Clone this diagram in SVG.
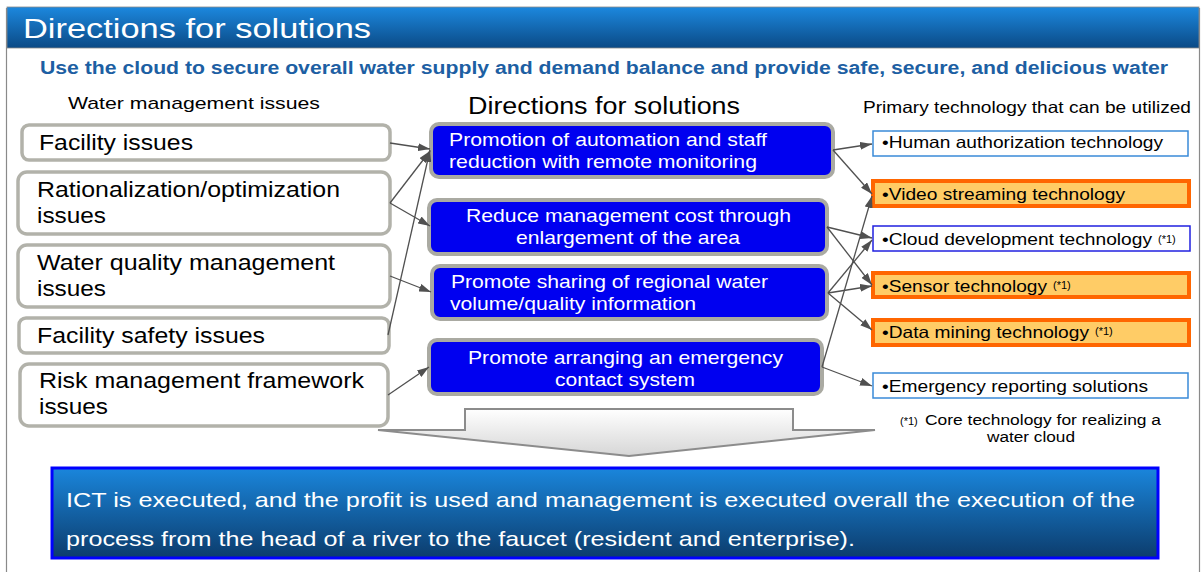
<svg xmlns="http://www.w3.org/2000/svg" width="1202" height="572" viewBox="0 0 1202 572">
<defs>
<linearGradient id="gTitle" x1="0" y1="0" x2="0" y2="1">
<stop offset="0" stop-color="#1c88de"/>
<stop offset="1" stop-color="#0b4a86"/>
</linearGradient>
<linearGradient id="gBottom" x1="0" y1="0" x2="0" y2="1">
<stop offset="0" stop-color="#1a86dc"/>
<stop offset="1" stop-color="#0c3c6c"/>
</linearGradient>
<linearGradient id="gArrow" x1="0" y1="0" x2="0" y2="1">
<stop offset="0" stop-color="#ffffff"/>
<stop offset="1" stop-color="#d6d6d6"/>
</linearGradient>
<marker id="ah" viewBox="0 0 12 8" refX="12" refY="4" markerWidth="12" markerHeight="8" markerUnits="userSpaceOnUse" orient="auto">
<path d="M0,0 L12,4 L0,8 z" fill="#505050"/>
</marker>
</defs>
<style>
text{font-family:"Liberation Sans",Arial,sans-serif;}
.issue rect{fill:#ffffff;stroke:#b2b2aa;stroke-width:3.5;}
.issue text{font-size:22px;fill:#000;}
.dir rect{fill:#0000f0;stroke:#aaaaa2;stroke-width:4;}
.dir text{font-size:18.5px;fill:#fff;}
.tech text{font-size:16.5px;fill:#000;}
.tech .sm{font-size:11px;}
.plain{fill:#fff;stroke:#3a8ad8;stroke-width:1.5;}
.plain2{fill:#fff;stroke:#2020e0;stroke-width:1.5;}
.hl{fill:#ffcc66;stroke:#ff6600;stroke-width:4;}
.conn line{stroke:#505050;stroke-width:1.3;marker-end:url(#ah);}
.head{font-size:17px;fill:#000;}
</style>

<!-- frame -->
<line x1="6.5" y1="8" x2="6.5" y2="572" stroke="#8a8a8a" stroke-width="1.2"/>
<line x1="1199.5" y1="8" x2="1199.5" y2="572" stroke="#8a8a8a" stroke-width="1.2"/>
<g id="title">
<rect x="7" y="7" width="1192" height="41" fill="url(#gTitle)" stroke="#8a8a8a" stroke-width="0.8"/>
<text x="23" y="38" font-size="27" fill="#fff" textLength="348" lengthAdjust="spacingAndGlyphs">Directions for solutions</text>
</g>
<text x="40" y="74" font-size="18" font-weight="bold" fill="#1d5fa3" textLength="1128" lengthAdjust="spacingAndGlyphs">Use the cloud to secure overall water supply and demand balance and provide safe, secure, and delicious water</text>

<text class="head" x="68" y="109" textLength="252" lengthAdjust="spacingAndGlyphs">Water management issues</text>
<text x="468" y="114" font-size="23" fill="#000" textLength="272" lengthAdjust="spacingAndGlyphs">Directions for solutions</text>
<text x="863" y="113" font-size="16.5" fill="#000" textLength="328" lengthAdjust="spacingAndGlyphs">Primary technology that can be utilized</text>

<!-- issues -->
<g id="issue1" class="issue"><rect x="22" y="125" width="368" height="35" rx="7"/><text x="39" y="150" textLength="154" lengthAdjust="spacingAndGlyphs">Facility issues</text></g>
<g id="issue2" class="issue"><rect x="18" y="172" width="372" height="62" rx="9"/><text x="37" y="197" textLength="303" lengthAdjust="spacingAndGlyphs">Rationalization/optimization</text><text x="37" y="223" textLength="69" lengthAdjust="spacingAndGlyphs">issues</text></g>
<g id="issue3" class="issue"><rect x="18" y="245" width="372" height="62" rx="9"/><text x="37" y="270" textLength="298" lengthAdjust="spacingAndGlyphs">Water quality management</text><text x="37" y="296" textLength="69" lengthAdjust="spacingAndGlyphs">issues</text></g>
<g id="issue4" class="issue"><rect x="19" y="318" width="370" height="35" rx="7"/><text x="37" y="343" textLength="228" lengthAdjust="spacingAndGlyphs">Facility safety issues</text></g>
<g id="issue5" class="issue"><rect x="20" y="364" width="368" height="62" rx="9"/><text x="39" y="388" textLength="325" lengthAdjust="spacingAndGlyphs">Risk management framework</text><text x="39" y="414" textLength="69" lengthAdjust="spacingAndGlyphs">issues</text></g>

<!-- directions -->
<g id="dir1" class="dir"><rect x="431" y="124" width="402" height="53" rx="8"/><text x="449" y="146" textLength="318" lengthAdjust="spacingAndGlyphs">Promotion of automation and staff</text><text x="449" y="168" textLength="308" lengthAdjust="spacingAndGlyphs">reduction with remote monitoring</text></g>
<g id="dir2" class="dir"><rect x="429" y="200" width="398" height="54" rx="8"/><text x="466" y="222" textLength="325" lengthAdjust="spacingAndGlyphs">Reduce management cost through</text><text x="516" y="244" textLength="224" lengthAdjust="spacingAndGlyphs">enlargement of the area</text></g>
<g id="dir3" class="dir"><rect x="432" y="266" width="395" height="53" rx="8"/><text x="451" y="288" textLength="317" lengthAdjust="spacingAndGlyphs">Promote sharing of regional water</text><text x="450" y="310" textLength="246" lengthAdjust="spacingAndGlyphs">volume/quality information</text></g>
<g id="dir4" class="dir"><rect x="429" y="340" width="393" height="54" rx="8"/><text x="468" y="364" textLength="315" lengthAdjust="spacingAndGlyphs">Promote arranging an emergency</text><text x="555" y="386" textLength="140" lengthAdjust="spacingAndGlyphs">contact system</text></g>

<!-- technologies -->
<g id="tech1" class="tech"><rect class="plain" x="873" y="131" width="315" height="25"/><text x="882" y="148" textLength="281" lengthAdjust="spacingAndGlyphs">•Human authorization technology</text></g>
<g id="tech2" class="tech"><rect class="hl" x="873" y="181" width="316" height="25"/><text x="882" y="200" textLength="243" lengthAdjust="spacingAndGlyphs">•Video streaming technology</text></g>
<g id="tech3" class="tech"><rect class="plain2" x="873" y="226" width="317" height="25"/><text x="882" y="245" textLength="270" lengthAdjust="spacingAndGlyphs">•Cloud development technology</text><text class="sm" x="1158" y="243">(*1)</text></g>
<g id="tech4" class="tech"><rect class="hl" x="873" y="273" width="316" height="24"/><text x="882" y="292" textLength="165" lengthAdjust="spacingAndGlyphs">•Sensor technology</text><text class="sm" x="1053" y="289">(*1)</text></g>
<g id="tech5" class="tech"><rect class="hl" x="873" y="320" width="316" height="25"/><text x="882" y="338" textLength="207" lengthAdjust="spacingAndGlyphs">•Data mining technology</text><text class="sm" x="1095" y="335">(*1)</text></g>
<g id="tech6" class="tech"><rect class="plain" x="873" y="373" width="315" height="25"/><text x="882" y="392" textLength="266" lengthAdjust="spacingAndGlyphs">•Emergency reporting solutions</text></g>

<g id="footnote">
<text x="900" y="425" font-size="11" fill="#000">(*1)</text>
<text x="925" y="425" font-size="15.5" fill="#000" textLength="236" lengthAdjust="spacingAndGlyphs">Core technology for realizing a</text>
<text x="987" y="442" font-size="15.5" fill="#000" textLength="88" lengthAdjust="spacingAndGlyphs">water cloud</text>
</g>

<!-- connectors -->
<g id="connectors" class="conn">
<line x1="390" y1="143" x2="430" y2="149"/>
<line x1="390" y1="203" x2="430" y2="151"/>
<line x1="390" y1="203" x2="430" y2="226"/>
<line x1="390" y1="276" x2="431" y2="292"/>
<line x1="388" y1="335" x2="430" y2="150"/>
<line x1="388" y1="395" x2="429" y2="367"/>
<line x1="833" y1="150" x2="872" y2="144"/>
<line x1="833" y1="150" x2="872" y2="194"/>
<line x1="827" y1="227" x2="872" y2="238"/>
<line x1="827" y1="227" x2="872" y2="285"/>
<line x1="828" y1="293" x2="872" y2="240"/>
<line x1="828" y1="293" x2="872" y2="286"/>
<line x1="828" y1="293" x2="872" y2="330"/>
<line x1="822" y1="367" x2="872" y2="196"/>
<line x1="822" y1="367" x2="872" y2="386"/>
</g>

<!-- big down arrow -->
<g id="downArrow">
<path d="M465,409 L793,409 L793,430 L875,430 L629,456 L378,430 L465,430 Z" fill="url(#gArrow)" stroke="#8c8c8c" stroke-width="2" stroke-linejoin="miter"/>
</g>

<!-- bottom conclusion -->
<g id="conclusion">
<rect x="52" y="468" width="1106" height="90" fill="url(#gBottom)" stroke="#0000ff" stroke-width="3"/>
<text x="66" y="507" font-size="21" fill="#fff" textLength="1069" lengthAdjust="spacingAndGlyphs">ICT is executed, and the profit is used and management is executed overall the execution of the</text>
<text x="66" y="546" font-size="21" fill="#fff" textLength="789" lengthAdjust="spacingAndGlyphs">process from the head of a river to the faucet (resident and enterprise).</text>
</g>
</svg>
